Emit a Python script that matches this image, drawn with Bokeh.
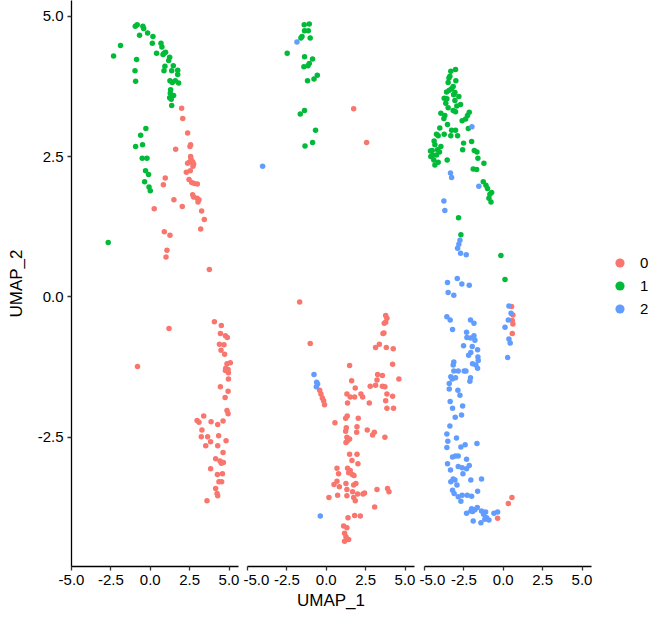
from bokeh.plotting import figure
from bokeh.layouts import row
from bokeh.models import Range1d, Legend, LegendItem, FixedTicker
from bokeh.embed import file_html
from bokeh.resources import INLINE

FONT = "Liberation Sans"
cluster_labels = ["0", "1", "2"]
cluster_colors = ["#F8766D", "#00BA38", "#619CFF"]
x_ticks = [-5.0, -2.5, 0.0, 2.5, 5.0]
x_tick_labels = ["-5.0", "-2.5", "0.0", "2.5", "5.0"]
y_ticks = [-2.5, 0.0, 2.5, 5.0]
y_tick_labels = ["-2.5", "0.0", "2.5", "5.0"]
x_title = "UMAP_1"
y_title = "UMAP_2"

# ---------------- panel 1 ----------------
p1_c0_x = [1.99, 2.06, 2.37, 1.61, 2.52, 2.56, 2.56, 2.58, 2.48, 2.69, 2.37, 2.75, 2.71, 2.29, 2.54,
           2.46, 2.63, 2.80, 2.99, 0.95, 0.83, 1.50, 2.03, 2.69, 2.75, 2.97, 3.09, 3.03, 3.26, 3.43,
           3.20, 0.25, 0.89, 1.25, 1.06, 1.00, 3.75,
           4.07, 4.51, 1.19, 4.45, 4.77, 4.89, 4.39, 4.68, 4.49, 4.72, 4.87, 5.08, 4.79, 4.94, 4.77,
           4.96, 4.96, 4.45, 4.94, 4.75, -0.81, 4.87, 4.94, 3.39, 2.97, 3.09, 3.86, 4.62, 4.28, 3.28,
           3.24, 3.64, 4.34, 3.83, 3.52, 4.28, 4.81, 4.62, 4.15, 4.43, 4.51, 4.64, 3.83, 4.26, 4.58,
           4.36, 4.53, 4.15, 4.24, 4.28, 3.60]
p1_c0_y = [3.36, 3.18, 2.92, 2.63, 2.68, 2.71, 2.50, 2.46, 2.40, 2.41, 2.38, 2.37, 2.33, 2.22, 2.25,
           2.09, 2.04, 2.02, 2.01, 2.12, 2.00, 1.73, 1.61, 1.82, 1.78, 1.76, 1.73, 1.69, 1.53, 1.38,
           1.21, 1.57, 1.16, 1.10, 0.83, 0.71, 0.49,
           -0.44, -0.51, -0.56, -0.65, -0.69, -0.72, -0.84, -0.85, -0.95, -1.02, -1.19, -1.17, -1.27,
           -1.29, -1.31, -1.35, -1.46, -1.60, -1.68, -1.79, -1.24, -2.02, -2.08, -2.12, -2.20, -2.23,
           -2.22, -2.21, -2.27, -2.37, -2.49, -2.49, -2.47, -2.58, -2.65, -2.65, -2.56, -2.77, -2.88,
           -2.92, -2.96, -2.95, -3.06, -3.16, -3.15, -3.29, -3.29, -3.41, -3.50, -3.54, -3.63]
p1_c1_x = [-2.33, -1.89, -0.95, -0.83, -0.47, -0.42, -0.68, -0.17, 0.17, 0.13, 0.68, 0.74, 0.40, 0.87,
           0.97, 0.81, 1.23, 1.17, -0.87, -0.97, 0.87, 0.93, 1.36, 1.46, 1.74, 1.74, 1.25, 1.40, 1.59,
           1.80, -0.93, 1.29, 1.27, 1.48, 1.23, 1.33, 1.36, -0.28, -0.61, -0.93, -0.49, -0.51, -0.21,
           -0.30, -0.11, -0.36, -0.08, 0.00, -2.67]
p1_c1_y = [4.29, 4.48, 4.82, 4.85, 4.82, 4.78, 4.66, 4.70, 4.64, 4.52, 4.52, 4.45, 4.34, 4.34, 4.36,
           4.32, 4.27, 4.21, 4.23, 4.03, 4.03, 4.11, 4.03, 4.12, 4.04, 3.96, 3.85, 3.82, 3.85, 3.81,
           3.84, 3.69, 3.63, 3.59, 3.55, 3.52, 3.41, 3.00, 2.88, 2.68, 2.71, 2.47, 2.47, 2.25, 2.18,
           2.05, 1.96, 1.89, 0.97]
p1_c2_x = []
p1_c2_y = []

# ---------------- panel 2 ----------------
p2_c0_x = [1.74, 2.56, -1.69, -1.02, -0.42, -0.34, -0.25, -0.17, -0.11, 1.48, 1.61, 1.84, 1.31, 1.52,
           1.80, 2.20, 2.31, 1.35, 3.77, 3.85, 3.68, 3.77, 3.60, 3.66, 3.37, 3.13, 3.81, 4.25, 4.21,
           4.61, 3.26, 3.56, 3.22, 2.79, 3.13, 3.56, 3.72, 3.85, 4.21, 3.77, 4.27, 3.85, 2.73, 1.33,
           1.23, 2.03, 0.55, 1.27, 1.23, 1.95, 2.60, 1.93, 1.31, 1.48, 1.25, 1.35, 3.05, 2.94, 3.72,
           1.48, 1.95, 1.63, 2.01, 0.68, 1.35, 1.52, 1.65, 1.76, 1.42, 0.78, 0.68, 0.49, 0.83, 1.25,
           1.74, 1.88, 1.31, 1.67, 1.99, 2.43, 2.33, 0.17, 0.72, 1.31, 1.74, 1.84, 3.22, 3.89, 3.98,
           3.07, 1.80, 2.16, 1.38, 1.10, 1.31, 1.16, 1.25, 1.42, 1.16]
p2_c0_y = [3.35, 2.75, -0.09, -0.83, -1.66, -1.73, -1.80, -1.85, -1.92, -1.22, -1.49, -1.62, -1.73,
           -1.78, -1.78, -1.73, -1.78, -1.89, -0.33, -0.38, -0.47, -0.45, -0.65, -0.64, -0.84, -0.90,
           -0.90, -0.92, -1.20, -1.46, -1.38, -1.40, -1.48, -1.59, -1.57, -1.59, -1.60, -1.73, -1.77,
           -1.85, -1.98, -1.98, -1.89, -2.12, -2.16, -2.16, -2.24, -2.33, -2.39, -2.31, -2.37, -2.41,
           -2.50, -2.53, -2.59, -2.56, -2.41, -2.46, -2.50, -2.80, -2.80, -2.91, -2.97, -3.05, -3.05,
           -3.09, -3.16, -3.18, -3.13, -3.15, -3.28, -3.34, -3.38, -3.32, -3.35, -3.32, -3.43, -3.47,
           -3.51, -3.49, -3.51, -3.57, -3.53, -3.54, -3.57, -3.63, -3.43, -3.41, -3.47, -3.74, -3.89,
           -3.90, -3.93, -4.08, -4.11, -4.21, -4.27, -4.32, -4.35]
p2_c1_x = [-1.40, -1.08, -1.38, -1.14, -1.54, -1.61, -1.02, -2.48, -1.38, -0.87, -1.42, -1.16, -1.08,
           -0.57, -0.78, -1.19, -1.38, -1.65, -0.68, -0.87, -1.35]
p2_c1_y = [4.85, 4.86, 4.74, 4.74, 4.64, 4.61, 4.61, 4.34, 4.28, 4.24, 4.10, 4.12, 4.16, 3.95, 3.88,
           3.85, 3.32, 3.26, 2.97, 2.75, 2.69]
p2_c2_x = [-1.86, -4.04, -0.78, -0.61, -0.63, -0.55, -0.38]
p2_c2_y = [4.54, 2.33, -1.38, -1.52, -1.60, -1.55, -3.90]

# ---------------- panel 3 ----------------
p3_c0_x = [0.53, 0.61, 0.57, 0.61, 0.57, 0.55, 0.32, -0.36]
p3_c0_y = [-0.17, -0.32, -0.42, -0.48, -0.65, -3.57, -3.68, -3.94]
p3_c1_x = [-3.03, -3.33, -3.39, -3.01, -3.50, -3.18, -3.28, -3.43, -3.60, -3.07, -2.82, -3.75, -3.58,
           -3.07, -2.71, -3.50, -3.18, -3.03, -3.96, -3.71, -3.77, -2.16, -2.27, -2.39, -2.61, -3.54,
           -4.03, -3.28, -3.03, -2.22, -4.24, -3.75, -4.13, -3.33, -2.90, -2.01, -2.52, -4.39, -4.34,
           -3.96, -4.17, -4.51, -4.05, -4.24, -2.58, -1.84, -1.67, -4.49, -4.41, -4.13, -4.34, -3.56,
           -1.61, -1.23, -1.91, -1.69, -1.27, -1.10, -1.00, -0.74, -0.85, -0.91, -0.78, -2.84, -2.69,
           -0.15, 0.11, -4.62, -4.60, -3.45, -3.15, -3.65, -2.95]
p3_c1_y = [4.05, 4.02, 3.93, 3.85, 3.82, 3.75, 3.71, 3.68, 3.65, 3.64, 3.57, 3.54, 3.53, 3.50, 3.43,
           3.37, 3.32, 3.30, 3.27, 3.23, 3.18, 3.29, 3.23, 3.17, 3.14, 3.07, 3.01, 2.97, 2.97, 3.00,
           2.90, 2.90, 2.87, 2.87, 2.87, 2.77, 2.74, 2.78, 2.71, 2.68, 2.62, 2.61, 2.58, 2.53, 2.62,
           2.61, 2.58, 2.52, 2.44, 2.40, 2.35, 2.44, 2.47, 2.38, 2.28, 2.27, 2.05, 1.99, 1.93, 1.86,
           1.83, 1.76, 1.69, 1.41, 1.11, 0.74, 0.31, 2.60, 2.50, 3.90, 3.60, 3.45, 3.40]
p3_c2_x = [-1.99, -3.35, -3.28, -1.55, -3.77, -3.71, -2.75, -2.82, -2.90, -2.71, -2.35, -2.92, -3.54,
           -2.63, -2.16, -3.50, -3.14,
           0.36, 0.49, 0.32, 0.11, 0.36, 0.44, 0.28,
           -3.58, -3.37, -3.22, -2.08, -1.86, -2.33, -2.31, -2.08, -1.86, -1.80, -2.52, -1.97, -1.63,
           -2.06, -2.20, -1.61, -1.59, -1.95, -1.74, -1.63, -3.14, -3.18, -3.14, -2.86, -2.48, -2.37,
           -3.33, -3.24, -3.03, -3.43, -2.08, -2.12, -3.43, -2.88, -2.75, -3.37, -2.58, -3.22, -2.65,
           -3.05, -3.39, -3.58, -2.97, -3.52, -1.67, -2.42, -2.69, -3.58, -3.03, -2.86, -3.22, -2.33,
           -3.54, -3.35, -2.86, -2.61, -2.33, -2.16, -2.56, -3.18, -3.07, -3.33, -2.94, -1.38, -2.06,
           -1.63, -3.22, -3.12, -2.86, -2.61, -2.29, -2.01, -2.69, -2.01, -1.95, -1.80, -2.06, -2.33,
           -1.65, -1.38, -1.12, -1.25, -1.06, -0.91, -1.17, -0.59, -0.36, -1.91, -1.42]
p3_c2_y = [3.03, 2.21, 2.13, 1.97, 1.71, 1.54, 1.01, 0.94, 0.87, 0.78, 0.75, 0.33, 0.26, 0.23, 0.21,
           0.08, 0.03,
           -0.16, -0.29, -0.41, -0.54, -0.75, -0.82, -1.08,
           -0.35, -0.41, -0.58, -0.41, -0.47, -0.63, -0.72, -0.73, -0.69, -0.77, -0.87, -0.88, -0.94,
           -0.99, -1.04, -1.07, -1.13, -1.19, -1.21, -1.27, -1.16, -1.21, -1.32, -1.32, -1.32, -1.32,
           -1.42, -1.46, -1.44, -1.54, -1.44, -1.50, -1.64, -1.66, -1.75, -1.86, -1.94, -1.98, -2.10,
           -2.14, -2.30, -2.44, -2.51, -2.57, -2.61, -2.63, -2.67, -2.68, -2.83, -2.83, -2.85, -2.89,
           -2.97, -3.08, -3.02, -3.04, -3.06, -3.00, -3.15, -3.24, -3.26, -3.29, -3.35, -3.24, -3.26,
           -3.46, -3.44, -3.50, -3.56, -3.53, -3.53, -3.55, -3.64, -3.77, -3.82, -3.79, -3.81, -3.85,
           -3.75, -3.81, -3.83, -3.87, -3.93, -3.97, -3.96, -3.85, -3.83, -3.99, -4.02]

panels = [
    [(p1_c0_x, p1_c0_y), (p1_c1_x, p1_c1_y), (p1_c2_x, p1_c2_y)],
    [(p2_c0_x, p2_c0_y), (p2_c1_x, p2_c1_y), (p2_c2_x, p2_c2_y)],
    [(p3_c0_x, p3_c0_y), (p3_c1_x, p3_c1_y), (p3_c2_x, p3_c2_y)],
]

X_START, X_END = -5.0, 5.6
Y_START, Y_END = -4.80, 5.28
FRAME_W, FRAME_H = 167, 566


def style_axis(ax):
    ax.axis_line_color = "black"
    ax.axis_line_width = 1.3
    ax.major_tick_line_color = "#333333"
    ax.major_tick_line_width = 1.3
    ax.major_tick_out = 4
    ax.major_tick_in = 0
    ax.minor_tick_out = 0
    ax.minor_tick_in = 0
    ax.major_label_text_font = FONT
    ax.major_label_text_font_size = "15px"
    ax.major_label_text_color = "black"
    ax.major_label_standoff = 4
    ax.axis_label_text_font = FONT
    ax.axis_label_text_font_size = "17px"
    ax.axis_label_text_font_style = "normal"
    ax.axis_label_text_color = "black"


y_range = Range1d(Y_START, Y_END)
figs = []
borders = [(71, 5), (4, 5), (5, 2)]
for i, data in enumerate(panels):
    p = figure(frame_width=FRAME_W, frame_height=FRAME_H,
               x_range=Range1d(X_START, X_END), y_range=y_range,
               output_backend="svg", toolbar_location=None,
               y_axis_location="left" if i == 0 else None,
               min_border_left=borders[i][0], min_border_right=borders[i][1],
               min_border_top=0, min_border_bottom=10)
    p.grid.visible = False
    p.outline_line_color = None
    p.background_fill_color = "white"
    p.border_fill_color = "white"
    p.xaxis.ticker = FixedTicker(ticks=x_ticks)
    p.xaxis.major_label_overrides = dict(zip(x_ticks, x_tick_labels))
    style_axis(p.xaxis[0])
    if i == 1:
        p.xaxis.axis_label = x_title
        p.xaxis.axis_label_standoff = 3
    if i == 0:
        p.yaxis.ticker = FixedTicker(ticks=y_ticks)
        p.yaxis.major_label_overrides = dict(zip(y_ticks, y_tick_labels))
        style_axis(p.yaxis[0])
        p.yaxis.axis_label = y_title
        p.yaxis.axis_label_standoff = 9
    for (xs, ys), col in zip(data, cluster_colors):
        if len(xs):
            p.scatter(xs, ys, size=5.5, fill_color=col, line_color=None)
    figs.append(p)

# legend panel: a blank frame whose ranges lie away from the data, so only the legend shows
pl = figure(frame_width=61, frame_height=FRAME_H, x_range=Range1d(50, 51), y_range=Range1d(50, 51),
            output_backend="svg", toolbar_location=None,
            x_axis_location=None, y_axis_location=None,
            min_border_left=0, min_border_right=0, min_border_top=0, min_border_bottom=0)
pl.grid.visible = False
pl.outline_line_color = None
items = []
for lab, col, (xs, ys) in zip(cluster_labels, cluster_colors, panels[2]):
    r = pl.scatter(xs[:1], ys[:1], size=9, fill_color=col, line_color=None)
    items.append(LegendItem(label=lab, renderers=[r]))
legend = Legend(items=items, location=(15, 246), glyph_width=23, glyph_height=23,
                spacing=-2, padding=0, margin=0, label_standoff=9,
                border_line_color=None, background_fill_alpha=0,
                label_text_font=FONT, label_text_font_size="15px", label_text_color="black")
pl.add_layout(legend)

layout = row(*figs, pl)
open("out.html", "w").write(file_html(layout, INLINE))
